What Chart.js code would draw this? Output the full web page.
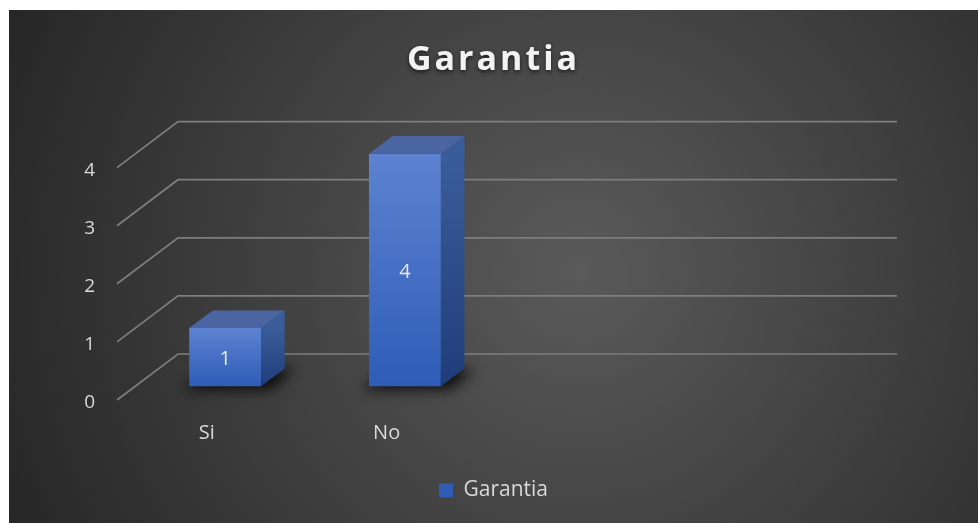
<!DOCTYPE html>
<html>
<head>
<meta charset="utf-8">
<script src="https://cdn.jsdelivr.net/npm/chart.js@4/dist/chart.umd.min.js"></script>
<style>
  html, body { margin: 0; padding: 0; background: #fff; }
  #chart { position: absolute; left: 9px; top: 10px; }
</style>
</head>
<body>
<canvas id="chart" width="969" height="513"></canvas>
<script>
// --- data ---
const categories = ['Si', 'No', '', ''];
const values = [1, 4, null, null];
const yTicks = [0, 1, 2, 3, 4];
const seriesName = 'Garantia';
const chartTitle = 'Garantia';

// --- 3D look ---
const depth = { x: 61, y: 46 };      // floor depth of the plot
const barFront = 0.3;                // where the bar front sits in the depth
const barDepth = 0.385;              // bar thickness in the depth
const fontFamily = '"Open Sans", "Liberation Sans", sans-serif';

const look3d = {
    id: 'look3d',
    beforeDraw(chart) {
        const { ctx, width, height } = chart;
        const g = ctx.createRadialGradient(570, 260, 0, 570, 260, 640);
        g.addColorStop(0, '#5a5a5a');
        g.addColorStop(1, '#252525');
        ctx.save();
        ctx.fillStyle = g;
        ctx.fillRect(0, 0, width, height);
        ctx.restore();
    },
    afterLayout(chart) {
        // letter spaced title with a soft shadow
        const t = chart.titleBlock;
        if (t && !t._spaced) {
            const draw = t.draw.bind(t);
            t.draw = function(area) {
                const ctx = chart.ctx;
                ctx.save();
                ctx.letterSpacing = '3px';
                ctx.shadowColor = 'rgba(0,0,0,0.6)';
                ctx.shadowBlur = 4;
                ctx.shadowOffsetY = 2;
                draw(area);
                ctx.restore();
            };
            t._spaced = true;
        }
    },
    beforeDatasetsDraw(chart) {
        const { ctx, chartArea, scales: { y } } = chart;
        // back wall + floor grid
        ctx.save();
        ctx.strokeStyle = '#7e7e7e';
        ctx.lineWidth = 1.7;
        y.ticks.forEach(t => {
            const py = y.getPixelForValue(t.value);
            ctx.beginPath();
            ctx.moveTo(chartArea.left, py);
            ctx.lineTo(chartArea.left + depth.x, py - depth.y);
            ctx.lineTo(chartArea.right + depth.x, py - depth.y);
            ctx.stroke();
        });
        ctx.restore();

        // shadows on the floor, then shift into the depth for the bars
        const meta = chart.getDatasetMeta(0);
        const dx = depth.x * barDepth, dy = depth.y * barDepth;
        ctx.save();
        ctx.translate(depth.x * barFront, -depth.y * barFront);
        ctx.filter = 'blur(7px)';
        ctx.fillStyle = 'rgba(0,0,0,0.85)';
        meta.data.forEach((bar, i) => {
            if (values[i] == null) return;
            const l = bar.x - bar.width / 2 - 6, r = bar.x + bar.width / 2 + 10;
            ctx.beginPath();
            ctx.moveTo(l, bar.base + 3);
            ctx.lineTo(r, bar.base + 3);
            ctx.lineTo(r + dx, bar.base - dy);
            ctx.lineTo(l + dx, bar.base - dy);
            ctx.closePath();
            ctx.fill();
        });
        ctx.filter = 'none';
    },
    afterDatasetsDraw(chart) {
        const { ctx } = chart;
        const meta = chart.getDatasetMeta(0);
        const dx = depth.x * barDepth, dy = depth.y * barDepth;
        meta.data.forEach((bar, i) => {
            if (values[i] == null) return;
            const l = bar.x - bar.width / 2, r = bar.x + bar.width / 2;
            const top = bar.y, bot = bar.base;
            // side face
            const gs = ctx.createLinearGradient(0, top, 0, bot);
            gs.addColorStop(0, '#3b5c9a');
            gs.addColorStop(1, '#1f3d7a');
            ctx.fillStyle = gs;
            ctx.beginPath();
            ctx.moveTo(r, top);
            ctx.lineTo(r + dx, top - dy);
            ctx.lineTo(r + dx, bot - dy);
            ctx.lineTo(r, bot);
            ctx.closePath();
            ctx.fill();
            // top face
            ctx.fillStyle = '#4a65a1';
            ctx.beginPath();
            ctx.moveTo(l, top);
            ctx.lineTo(r, top);
            ctx.lineTo(r + dx, top - dy);
            ctx.lineTo(l + dx, top - dy);
            ctx.closePath();
            ctx.fill();
            // value label
            ctx.fillStyle = '#e8e8e8';
            ctx.font = '20px ' + fontFamily;
            ctx.textAlign = 'center';
            ctx.textBaseline = 'middle';
            ctx.fillText(String(values[i]), bar.x, (top + bot) / 2 + 2);
        });
        ctx.restore();
    }
};

function frontFace(c) {
    const solid = '#4472c4';
    if (c.type !== 'data' || c.raw == null) return solid;
    const y = c.chart.scales.y;
    if (!y) return solid;
    const top = y.getPixelForValue(c.raw), bot = y.getPixelForValue(0);
    if (!isFinite(top) || !isFinite(bot) || top === bot) return solid;
    const g = c.chart.ctx.createLinearGradient(0, top, 0, bot);
    g.addColorStop(0, '#5d83d2');
    g.addColorStop(1, '#2e5cb6');
    return g;
}

new Chart(document.getElementById('chart'), {
    type: 'bar',
    data: {
        labels: categories,
        datasets: [{
            label: seriesName,
            data: values,
            backgroundColor: frontFace,
            borderWidth: 0,
            barPercentage: 0.4,
            categoryPercentage: 1,
            clip: false
        }]
    },
    options: {
        responsive: false,
        animation: false,
        layout: { padding: { left: 0, right: 0, top: 2.8, bottom: 12 } },
        plugins: {
            title: {
                display: true,
                text: chartTitle,
                color: '#f2f2f2',
                font: { family: fontFamily, size: 34, weight: 'bold' },
                padding: { top: 27, bottom: 87 }
            },
            legend: {
                position: 'bottom',
                labels: {
                    color: '#d9d9d9',
                    font: { family: fontFamily, size: 21 },
                    boxWidth: 14,
                    boxHeight: 14,
                    padding: 10
                }
            },
            tooltip: { enabled: false }
        },
        scales: {
            x: {
                grid: { display: false },
                border: { display: false },
                ticks: { color: '#d9d9d9', font: { family: fontFamily, size: 20 }, padding: 13 },
                afterFit: s => { s.height = 70; }
            },
            y: {
                min: 0,
                max: 4,
                grid: { display: false },
                border: { display: false },
                afterBuildTicks: s => { s.ticks = yTicks.map(v => ({ value: v })); },
                ticks: { color: '#d9d9d9', font: { family: fontFamily, size: 19 }, padding: 14, labelOffset: 3 },
                afterFit: s => { s.width = 108; }
            },
            // empty strip on the right so the plot ends where the back wall needs it
            side: {
                position: 'right',
                grid: { display: false },
                border: { display: false },
                ticks: { display: false },
                afterFit: s => { s.width = 142; }
            }
        }
    },
    plugins: [look3d]
});
</script>
</body>
</html>
